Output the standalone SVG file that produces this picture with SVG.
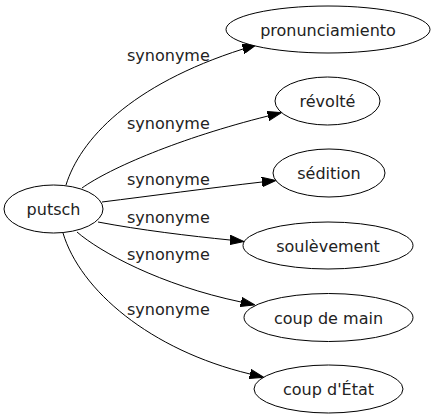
<svg xmlns="http://www.w3.org/2000/svg" width="436" height="419" viewBox="0 0 436 419">
<style>
  .node ellipse { fill: #ffffff; stroke: #000000; stroke-width: 1; }
  .node text { font-family: "DejaVu Sans", "Liberation Sans", sans-serif; font-size: 16px; fill: #222222; text-anchor: middle; }
  .edges path.e { fill: none; stroke: #000000; stroke-width: 1; marker-end: url(#arrow); }
  .edges text { font-family: "DejaVu Sans", "Liberation Sans", sans-serif; font-size: 16px; fill: #222222; text-anchor: start; }
</style>
<defs>
  <marker id="arrow" viewBox="0 -5 14 10" refX="0" refY="0" markerWidth="14" markerHeight="10" markerUnits="userSpaceOnUse" orient="auto">
    <path d="M0,-4.7 L14,0 L0,4.7 Z" fill="#000000" stroke="#000000" stroke-width="1"/>
  </marker>
</defs>
<rect x="0" y="0" width="436" height="419" fill="#ffffff"/>
<g class="edges" id="edges">
  <path class="e" d="M66,185 C80,140 130,85 243,49"/>
  <text x="127" y="61">synonyme</text>
  <path class="e" d="M82,188 C110,168 180,138 268,116"/>
  <text x="127" y="129">synonyme</text>
  <path class="e" d="M102,202 C150,196 210,188 262,182"/>
  <text x="127" y="185">synonyme</text>
  <path class="e" d="M98,222 C140,230 190,236 230,240"/>
  <text x="127" y="223">synonyme</text>
  <path class="e" d="M77,232 C100,252 160,285 241,302"/>
  <text x="127" y="260">synonyme</text>
  <path class="e" d="M63,233 C80,290 150,350 250,374"/>
  <text x="127" y="315">synonyme</text>
</g>
<g class="node" id="node-putsch">
  <ellipse cx="53.5" cy="209" rx="49.5" ry="24"/>
  <text x="53.5" y="215">putsch</text>
</g>
<g class="node" id="node-pronunciamiento">
  <ellipse cx="328" cy="29.5" rx="102" ry="23.5"/>
  <text x="328" y="35.5">pronunciamiento</text>
</g>
<g class="node" id="node-revolte">
  <ellipse cx="327.5" cy="101" rx="52.5" ry="24"/>
  <text x="327.5" y="107">révolté</text>
</g>
<g class="node" id="node-sedition">
  <ellipse cx="329" cy="173" rx="56" ry="24"/>
  <text x="329" y="179">sédition</text>
</g>
<g class="node" id="node-soulevement">
  <ellipse cx="328" cy="245.5" rx="85" ry="23.5"/>
  <text x="328" y="251.5">soulèvement</text>
</g>
<g class="node" id="node-coup-de-main">
  <ellipse cx="328.5" cy="317.5" rx="84.5" ry="24"/>
  <text x="328.5" y="323.5">coup de main</text>
</g>
<g class="node" id="node-coup-d-etat">
  <ellipse cx="328.5" cy="389" rx="74.5" ry="24"/>
  <text x="328.5" y="395">coup d'État</text>
</g>
</svg>
